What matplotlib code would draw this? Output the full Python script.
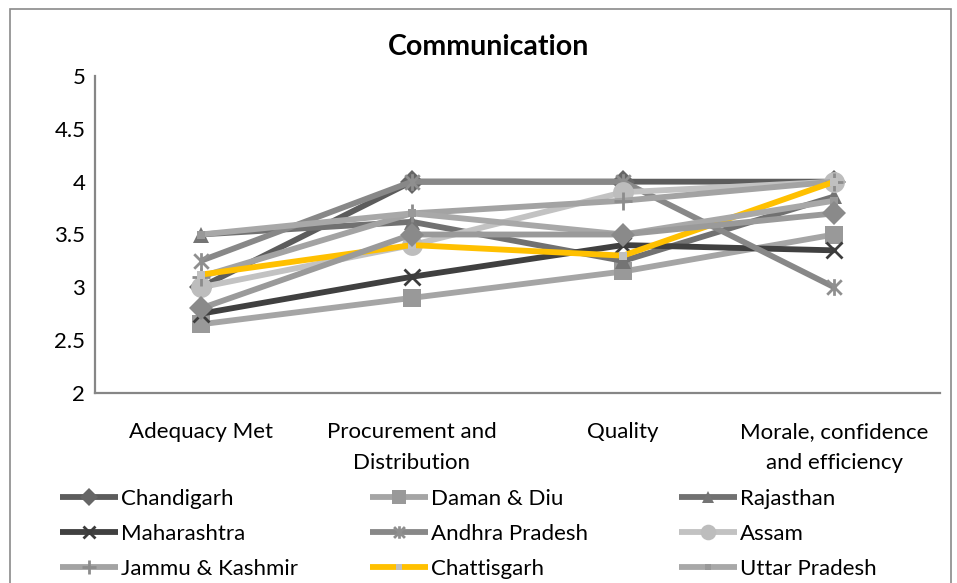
import matplotlib
matplotlib.use("Agg")
import matplotlib.pyplot as plt
from matplotlib.path import Path
from matplotlib.patches import Rectangle

plt.rcParams['font.family'] = ['Lato', 'DejaVu Sans']

# ---- data ----
categories = ["Adequacy Met", "Procurement and\nDistribution", "Quality",
              "Morale, confidence\nand efficiency"]
y_ticks = [2, 2.5, 3, 3.5, 4, 4.5, 5]
y_tick_labels = ["2", "2.5", "3", "3.5", "4", "4.5", "5"]

chandigarh = [3.0, 4.0, 4.0, 4.0]
daman_diu = [2.65, 2.9, 3.15, 3.5]
rajasthan = [3.5, 3.62, 3.25, 3.86]
maharashtra = [2.75, 3.1, 3.4, 3.35]
andhra_pradesh = [3.25, 4.0, 4.0, 3.0]
assam = [3.0, 3.4, 3.9, 4.0]
jammu_kashmir = [3.1, 3.7, 3.82, 4.0]
chattisgarh = [3.12, 3.4, 3.3, 4.0]
uttar_pradesh = [3.5, 3.7, 3.5, 3.82]
tenth_state = [2.8, 3.5, 3.5, 3.7]

# asterisk marker: an X with a vertical bar through it
star_marker = Path(
    [(-1, -1), (1, 1), (-1, 1), (1, -1), (0, -1.15), (0, 1.15)],
    [Path.MOVETO, Path.LINETO, Path.MOVETO, Path.LINETO, Path.MOVETO, Path.LINETO])

LW = 4.2
series = [
    # label, values, line colour, marker, marker size, marker colour, filled
    ("Chandigarh", chandigarh, "#5c5c5c", "D", 12, "#666666", True),
    ("Daman & Diu", daman_diu, "#a5a5a5", "s", 13, "#999999", True),
    ("Rajasthan", rajasthan, "#717171", "^", 12, "#747474", True),
    ("Maharashtra", maharashtra, "#404040", "x", 12, "#3c3c3c", False),
    ("Andhra Pradesh", andhra_pradesh, "#888888", star_marker, 12, "#8f8f8f", False),
    ("Assam", assam, "#c2c2c2", "o", 15, "#bdbdbd", True),
    ("Jammu & Kashmir", jammu_kashmir, "#a3a3a3", "+", 13, "#8c8c8c", False),
    ("Chattisgarh", chattisgarh, "#ffc000", "s", 5.5, "#c0c0c0", True),
    ("Uttar Pradesh", uttar_pradesh, "#a8a8a8", "s", 5.5, "#999999", True),
    ("_tenth", tenth_state, "#9a9a9a", "D", 12.5, "#8a8a8a", True),
]

W, H = 957, 583
fig = plt.figure(figsize=(W / 100, H / 100), dpi=100)
ax = fig.add_axes([95 / W, 1 - 393 / H, 845 / W, 317 / H])

x = list(range(len(categories)))
handles = {}
for label, vals, lc, mk, ms, mc, filled in series:
    if filled:
        kw = dict(markerfacecolor=mc, markeredgecolor=mc, markeredgewidth=0)
    else:
        kw = dict(markerfacecolor="none", markeredgecolor=mc, markeredgewidth=2.0)
    ln, = ax.plot(x, vals, color=lc, lw=LW, marker=mk, markersize=ms,
                  solid_capstyle="butt", solid_joinstyle="round", label=label, **kw)
    handles[label] = ln

ax.set_xlim(-0.5, len(categories) - 0.5)
ax.set_ylim(2, 5)
ax.set_yticks(y_ticks)
ax.set_yticklabels(y_tick_labels)
ax.set_xticks(x)
ax.set_xticklabels(categories, linespacing=1.65)
ax.tick_params(axis="y", length=0, pad=7, labelsize=16, colors="black")
ax.tick_params(axis="x", length=0, pad=21, labelsize=16, colors="black")
for s in ("top", "right"):
    ax.spines[s].set_visible(False)
for s in ("left", "bottom"):
    ax.spines[s].set_color("#868686")
    ax.spines[s].set_linewidth(1.6)

fig.text(489 / W, 1 - 47 / H, "Communication", ha="center", va="center",
         fontsize=20.5, fontweight="bold")

# chart frame
fig.patches.append(Rectangle((9.5 / W, -0.1), (951 - 9.5) / W, (H - 9.5) / H + 0.1,
                             transform=fig.transFigure, fill=False,
                             edgecolor="#8a8a8a", lw=1.2))

# legend, three columns laid out row by row
columns = [["Chandigarh", "Maharashtra", "Jammu & Kashmir"],
           ["Daman & Diu", "Andhra Pradesh", "Chattisgarh"],
           ["Rajasthan", "Assam", "Uttar Pradesh"]]
col_x = [60, 370, 679]
for cx, names in zip(col_x, columns):
    leg = fig.legend([handles[n] for n in names], names, loc="upper left",
                     bbox_to_anchor=(cx / W, 1 - 489 / H), frameon=False,
                     borderpad=0, borderaxespad=0, handlelength=2.6,
                     handletextpad=0.15, labelspacing=0.67, fontsize=16,
                     markerscale=0.75)

fig.savefig("out.png", dpi=100)
